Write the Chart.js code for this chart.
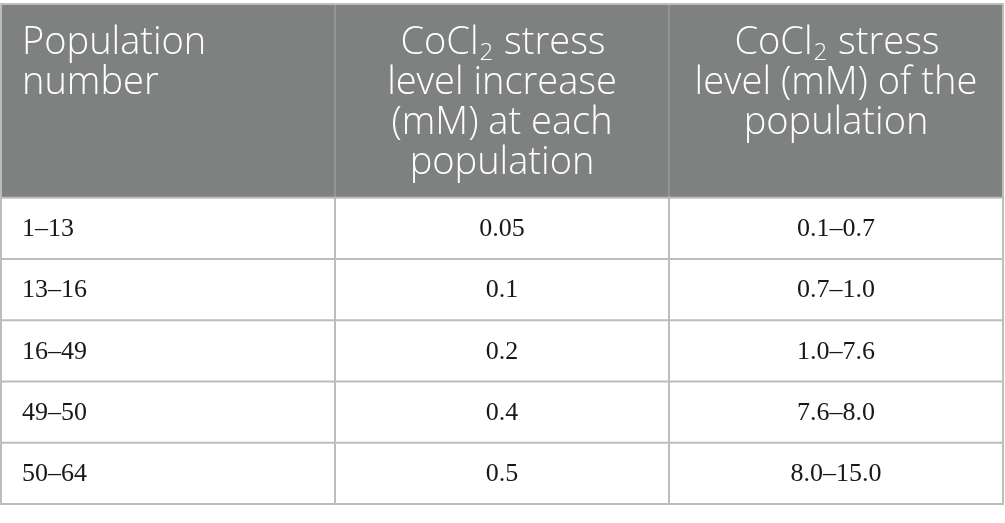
<!DOCTYPE html>
<html>
<head>
<meta charset="utf-8">
<script src="https://cdn.jsdelivr.net/npm/chart.js@4.4.1/dist/chart.umd.min.js"></script>
<style>
  html, body { margin: 0; padding: 0; background: #fff; }
  #stressTable { display: block; }
</style>
</head>
<body>
<canvas id="stressTable" width="1005" height="523"></canvas>
<script>
// table content
const columnHeaders = [
  ["Population", "number"],
  ["CoCl₂ stress", "level increase", "(mM) at each", "population"],
  ["CoCl₂ stress", "level (mM) of the", "population"]
];
const populationRanges = ["1–13", "13–16", "16–49", "49–50", "50–64"];
const stressIncrease = ["0.05", "0.1", "0.2", "0.4", "0.5"];
const stressLevelFrom = ["0.1", "0.7", "1.0", "7.6", "8.0"];
const stressLevelTo = ["0.7", "1.0", "7.6", "8.0", "15.0"];

// y in "row units": header block is taller than a body row
const headerRows = 3.162;
const rowCount = populationRanges.length;

const cellPoints = [];
const cellTexts = [];
for (let i = 0; i < rowCount; i++) {
  const yMid = headerRows + i + 0.5;
  const vals = [populationRanges[i], stressIncrease[i], stressLevelFrom[i] + "–" + stressLevelTo[i]];
  for (let c = 0; c < 3; c++) {
    cellPoints.push({x: c + 0.5, y: yMid});
    cellTexts.push({text: vals[c], col: c});
  }
}

const headerFont = '300 38px "Open Sans", "Noto Sans", sans-serif';
const subFont = '300 24px "Open Sans", "Noto Sans", sans-serif';
const bodyFont = '26px "Liberation Serif", "DejaVu Serif", serif';

function richWidth(ctx, line) {
  let w = 0;
  line.split(/(₂)/).forEach(function (p) {
    if (!p) return;
    ctx.font = p === "₂" ? subFont : headerFont;
    w += ctx.measureText(p === "₂" ? "2" : p).width;
  });
  return w;
}

function drawRich(ctx, line, x, y, align) {
  let cx = align === "center" ? x - richWidth(ctx, line) / 2 : x;
  ctx.textAlign = "left";
  line.split(/(₂)/).forEach(function (p) {
    if (!p) return;
    if (p === "₂") {
      ctx.font = subFont;
      ctx.fillText("2", cx + 1, y + 6);
      cx += ctx.measureText("2").width + 2;
    } else {
      ctx.font = headerFont;
      ctx.fillText(p, cx, y);
      cx += ctx.measureText(p).width;
    }
  });
}

const tablePlugin = {
  id: "tablePlugin",
  beforeDatasetsDraw(chart) {
    const ctx = chart.ctx;
    const xs = chart.scales.x, ys = chart.scales.y;
    const left = xs.getPixelForValue(0), right = xs.getPixelForValue(3);
    const top = ys.getPixelForValue(0), hBottom = ys.getPixelForValue(headerRows);
    const bottom = ys.getPixelForValue(headerRows + rowCount);
    ctx.save();
    // header background
    ctx.fillStyle = "#7f8180";
    ctx.fillRect(left, top, right - left, hBottom - top);

    ctx.lineWidth = 2;
    // column dividers inside header
    ctx.strokeStyle = "#939594";
    for (let c = 1; c < 3; c++) {
      const px = xs.getPixelForValue(c);
      ctx.beginPath(); ctx.moveTo(px, top); ctx.lineTo(px, hBottom); ctx.stroke();
    }
    ctx.strokeStyle = "#bdbdbd";
    // column lines in body + outer borders
    for (let c = 0; c <= 3; c++) {
      const px = xs.getPixelForValue(c);
      ctx.beginPath();
      ctx.moveTo(px, (c === 0 || c === 3) ? top - 1 : hBottom);
      ctx.lineTo(px, bottom + 1);
      ctx.stroke();
    }
    // row lines
    const rowEdges = [0, headerRows];
    for (let i = 1; i <= rowCount; i++) rowEdges.push(headerRows + i);
    rowEdges.forEach(function (v) {
      const py = ys.getPixelForValue(v);
      ctx.beginPath(); ctx.moveTo(left, py); ctx.lineTo(right, py); ctx.stroke();
    });

    // header text
    ctx.fillStyle = "#ffffff";
    ctx.textBaseline = "alphabetic";
    columnHeaders.forEach(function (lines, c) {
      const x = c === 0 ? left + 21 : xs.getPixelForValue(c + 0.5);
      lines.forEach(function (line, k) {
        drawRich(ctx, line, x, top + 50 + k * 40, c === 0 ? "left" : "center");
      });
    });
    ctx.restore();
  },
  afterDatasetsDraw(chart) {
    const ctx = chart.ctx;
    const meta = chart.getDatasetMeta(0);
    const left = chart.scales.x.getPixelForValue(0);
    ctx.save();
    ctx.font = bodyFont;
    ctx.fillStyle = "#1a1718";
    ctx.textBaseline = "middle";
    meta.data.forEach(function (pt, i) {
      const cell = cellTexts[i];
      if (cell.col === 0) {
        ctx.textAlign = "left";
        ctx.fillText(cell.text, left + 21, pt.y + 1);
      } else {
        ctx.textAlign = "center";
        ctx.fillText(cell.text, pt.x, pt.y + 1);
      }
    });
    ctx.restore();
  }
};

new Chart(document.getElementById("stressTable"), {
  type: "scatter",
  data: {
    datasets: [{
      data: cellPoints,
      pointRadius: 0,
      pointHoverRadius: 0
    }]
  },
  options: {
    responsive: false,
    animation: false,
    events: [],
    layout: { padding: { top: 4, left: 1, right: 2, bottom: 19 } },
    plugins: { legend: { display: false }, tooltip: { enabled: false } },
    scales: {
      x: { type: "linear", display: false, min: 0, max: 3 },
      y: { type: "linear", display: false, reverse: true, min: 0, max: headerRows + rowCount }
    }
  },
  plugins: [tablePlugin]
});
</script>
</body>
</html>
